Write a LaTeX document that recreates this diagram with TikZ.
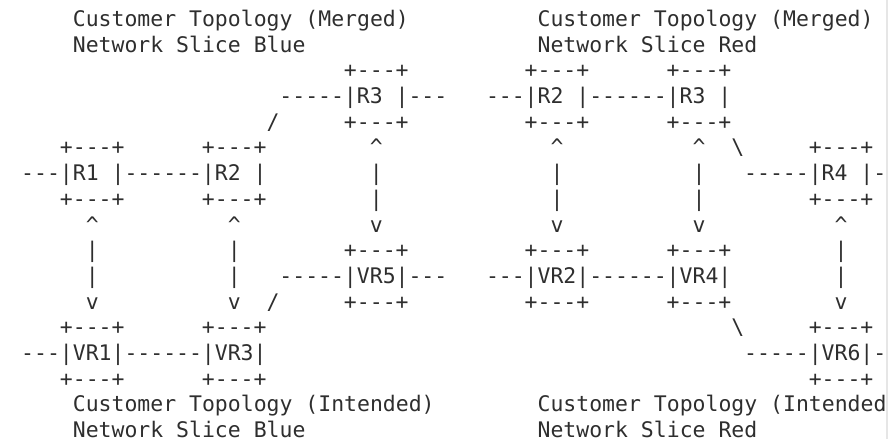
\documentclass[tikz,border=0pt]{standalone}
\usepackage{fontspec}
\setmonofont{DejaVu Sans Mono}
\definecolor{ink}{HTML}{2E2E2E}
\definecolor{edge}{HTML}{E6E6E6}
\begin{document}
\begin{tikzpicture}
  [
    x=6.455pt, y=-12.85pt,
    asc/.style={anchor=base west, inner sep=0pt, text=ink,
      font=\ttfamily\fontsize{10.73}{12.9}\selectfont},
    rtr/.style={asc},
    lnk/.style={asc}
  ]
  \useasboundingbox (-1.615,-1.031) rectangle (67.48,16.05);
  \draw [edge, line width=0.6pt] (67.09,-1.031) -- (67.09,16.05);
  % titles
  \node [asc] (ttl-bm) at (4,0)  {Customer Topology (Merged)};
  \node [asc] (sl-bm)  at (4,1)  {Network Slice Blue};
  \node [asc] (ttl-rm) at (40,0) {Customer Topology (Merged)};
  \node [asc] (sl-rm)  at (40,1) {Network Slice Red};
  \node [asc] (ttl-bi) at (4,15)  {Customer Topology (Intended)};
  \node [asc] (sl-bi)  at (4,16)  {Network Slice Blue};
  \node [asc] (ttl-ri) at (40,15) {Customer Topology (Intended};
  \node [asc] (sl-ri)  at (40,16) {Network Slice Red};
  % box rims
  \foreach \c/\r in {25/2, 39/2, 50/2, 25/4, 39/4, 50/4,
                     3/5, 14/5, 61/5, 3/7, 14/7, 61/7,
                     25/9, 39/9, 50/9, 25/11, 39/11, 50/11,
                     3/12, 14/12, 61/12, 3/14, 14/14, 61/14}
    \node [asc] (rim-\c-\r) at (\c,\r) {+---+};
  % routers, slice blue
  \node [rtr] (b-R1)  at (3,6)   {|R1 |};
  \node [rtr] (b-R2)  at (14,6)  {|R2 |};
  \node [rtr] (b-R3)  at (25,3)  {|R3 |};
  \node [rtr] (b-VR1) at (3,13)  {|VR1|};
  \node [rtr] (b-VR3) at (14,13) {|VR3|};
  \node [rtr] (b-VR5) at (25,10) {|VR5|};
  % routers, slice red
  \node [rtr] (r-R2)  at (39,3)  {|R2 |};
  \node [rtr] (r-R3)  at (50,3)  {|R3 |};
  \node [rtr] (r-R4)  at (61,6)  {|R4 |};
  \node [rtr] (r-VR2) at (39,10) {|VR2|};
  \node [rtr] (r-VR4) at (50,10) {|VR4|};
  \node [rtr] (r-VR6) at (61,13) {|VR6|};
  % links
  \foreach \c/\r/\t in {0/6/---, 8/6/------, 20/3/-----, 30/3/---,
                        36/3/---, 44/3/------, 56/6/-----, 66/6/-,
                        0/13/---, 8/13/------, 20/10/-----, 30/10/---,
                        36/10/---, 44/10/------, 56/13/-----, 66/13/-}
    \node [lnk] (lnk-\c-\r) at (\c,\r) {\t};
  \node [lnk] (sl-1) at (19,4)  {/};
  \node [lnk] (sl-2) at (19,11) {/};
  \node [lnk] (bs-1) at (55,5)  {\textbackslash};
  \node [lnk] (bs-2) at (55,12) {\textbackslash};
  % vertical arrows
  \foreach \c/\r in {5/8, 16/8, 27/5, 41/5, 52/5, 63/8}
    \node [lnk] (up-\c-\r) at (\c,\r) {\textasciicircum};
  \foreach \c/\r in {5/9, 5/10, 16/9, 16/10, 27/6, 27/7, 41/6, 41/7,
                     52/6, 52/7, 63/9, 63/10}
    \node [lnk] (bar-\c-\r) at (\c,\r) {|};
  \foreach \c/\r in {5/11, 16/11, 27/8, 41/8, 52/8, 63/11}
    \node [lnk] (dn-\c-\r) at (\c,\r) {v};
\end{tikzpicture}
\end{document}
